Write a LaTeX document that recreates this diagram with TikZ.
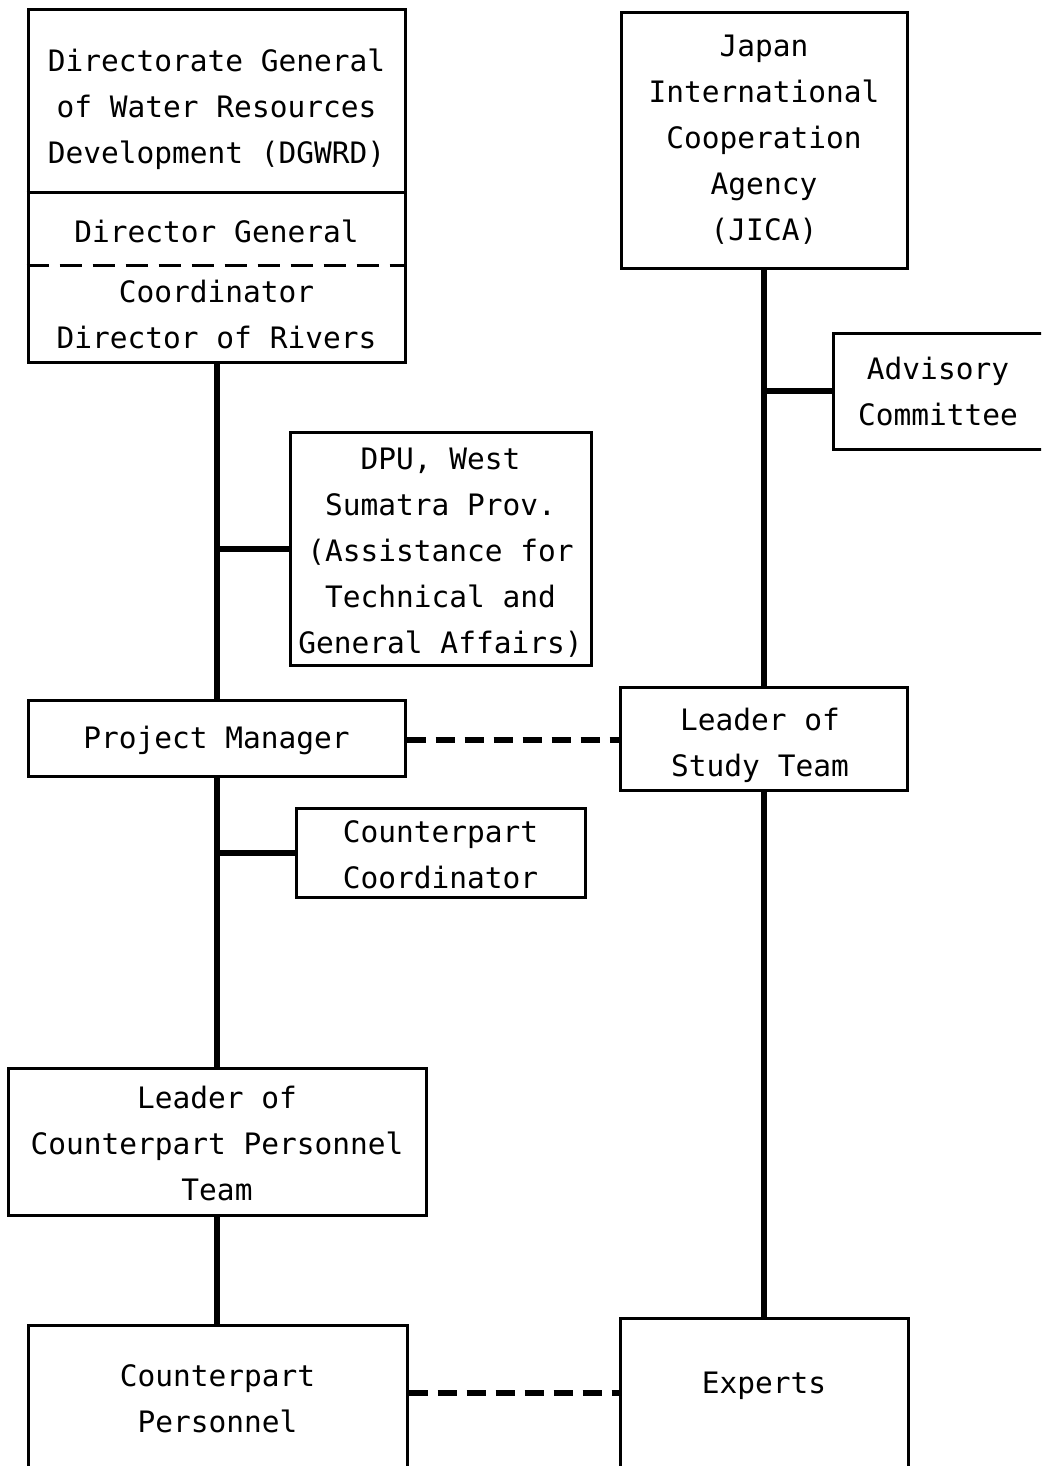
\documentclass[tikz,border=0pt]{standalone}
\usepackage{fontspec}
\newfontfamily\lab{DejaVu Sans Mono}
\begin{document}
\begin{tikzpicture}[x=1pt,y=-1pt,
  box/.style={draw, line width=3pt, inner sep=0pt, align=center, font={\lab\fontsize{29.5}{46}\selectfont}},
  txt/.style={inner sep=0pt, align=center, font={\lab\fontsize{29.5}{46}\selectfont}},
  conn/.style={line width=6pt},
  dconn/.style={line width=6pt, dash pattern=on 19pt off 10pt},
]
\useasboundingbox (0,0) rectangle (1041,1466);
\clip (0,0) rectangle (1041,1466);
\fill[white] (0,0) rectangle (1041,1466);

% left column
\node[box, minimum width=377pt, minimum height=352pt] (dg) at (216.5,186) {};
\draw[line width=3pt] (dg.west |- 0,193) -- (dg.east |- 0,193);
\draw[line width=3pt, dash pattern=on 22pt off 11pt] (dg.west |- 0,265) -- (dg.east |- 0,265);
\node[txt] (dgt) at (216.5,109) {Directorate General\\of Water Resources\\Development (DGWRD)};
\node[txt] (dgd) at (216.5,231) {Director General};
\node[txt] (dgc) at (216.5,315) {Coordinator\\Director of Rivers};

\node[box, minimum width=301pt, minimum height=233pt] (dpu) at (440.5,548.5) {};
\node[txt] (dput) at (440.5,553) {DPU, West\\Sumatra Prov.\\(Assistance for\\Technical and\\General Affairs)};
\node[box, minimum width=377pt, minimum height=76pt] (pm) at (216.5,738) {};
\node[txt] (pmt) at (216.5,740) {Project Manager};
\node[box, minimum width=289pt, minimum height=89pt] (cc) at (440.5,852.5) {};
\node[txt] (cct) at (440.5,855) {Counterpart\\Coordinator};
\node[box, minimum width=418pt, minimum height=147pt] (lcp) at (217,1141.5) {};
\node[txt] (lcpt) at (217,1143) {Leader of\\Counterpart Personnel\\Team};
\node[box, minimum width=379pt, minimum height=155pt] (cp) at (217.5,1402.5) {};
\node[txt] (cpt) at (217.5,1399) {Counterpart\\Personnel};

% right column
\node[box, minimum width=286pt, minimum height=255pt] (jica) at (764,140.5) {};
\node[txt] (jicat) at (764,140) {Japan\\International\\Cooperation\\Agency\\(JICA)};
\node[box, minimum width=227pt, minimum height=116pt] (adv) at (946.5,391) {};
\node[txt] (advt) at (938,391) {Advisory\\Committee};
\node[box, minimum width=287pt, minimum height=103pt] (lst) at (764,738.5) {};
\node[txt] (lstt) at (760,745) {Leader of\\Study Team};
\node[box, minimum width=288pt, minimum height=162pt] (exp) at (764,1399) {};
\node[txt] (expt) at (764,1386) {Experts};

% connectors
\draw[conn] (dg.south) -- (pm.north);
\draw[conn] (dpu.west) -- (dpu.west -| dg.south);
\draw[conn] (pm.south) -- (pm.south |- lcp.north);
\draw[conn] (cc.west) -- (cc.west -| pm.south);
\draw[conn] (pm.south |- lcp.south) -- (pm.south |- cp.north);

\draw[conn] (jica.south) -- (lst.north);
\draw[conn] (adv.west) -- (adv.west -| jica.south);
\draw[conn] (lst.south) -- (exp.north);

\coordinate (d1) at (0,740);
\coordinate (d2) at (0,1393);
\draw[dconn] (pm.east |- d1) -- (lst.west |- d1);
\draw[dconn] (cp.east |- d2) -- (exp.west |- d2);
\end{tikzpicture}
\end{document}
